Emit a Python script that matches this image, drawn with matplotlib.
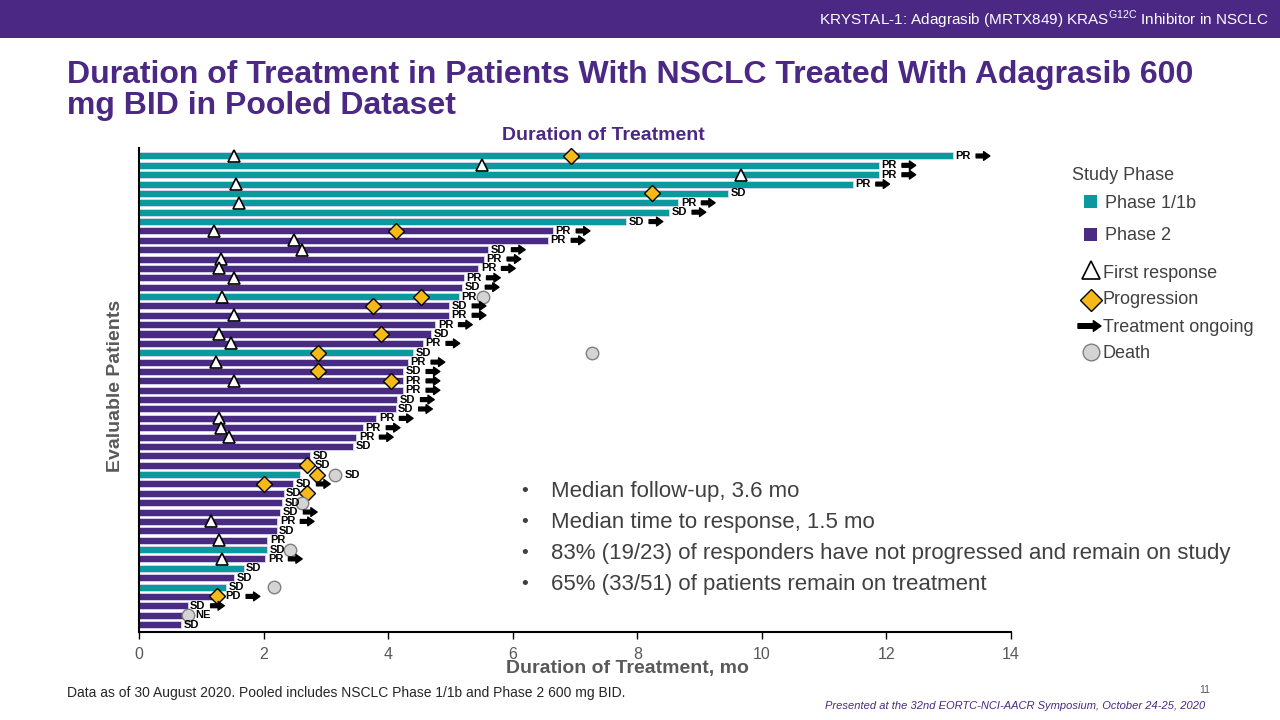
import matplotlib
matplotlib.use('Agg')
import matplotlib.pyplot as plt
from matplotlib.patches import Rectangle

plt.rcParams['font.family'] = ['Liberation Sans', 'DejaVu Sans']
plt.rcParams['mathtext.fontset'] = 'custom'
plt.rcParams['mathtext.rm'] = 'Liberation Sans'

PURPLE = '#4b2884'
TEAL = '#0a9a9e'
BAR_PURPLE = '#4a2b84'
GOLD = '#f6b91a'
GREY = '#595959'
DARK = '#404040'

# duration of treatment per patient (months), top row first
duration = [13.07, 11.88, 11.88, 11.46, 9.46, 8.66, 8.51, 7.82, 6.65, 6.57,
            5.61, 5.54, 5.45, 5.21, 5.19, 5.14, 4.98, 4.98, 4.76, 4.69,
            4.56, 4.40, 4.32, 4.24, 4.24, 4.24, 4.15, 4.12, 3.81, 3.60,
            3.49, 3.44, 2.75, 2.66, 2.59, 2.48, 2.32, 2.30, 2.27, 2.22,
            2.21, 2.06, 2.06, 2.03, 1.68, 1.53, 1.40, 1.20, 0.78, 0.71, 0.68]
best_response = ['PR', 'PR', 'PR', 'PR', 'SD', 'PR', 'SD', 'SD', 'PR', 'PR',
                 'SD', 'PR', 'PR', 'PR', 'SD', 'PR', 'SD', 'PR', 'PR', 'SD',
                 'PR', 'SD', 'PR', 'SD', 'PR', 'PR', 'SD', 'SD', 'PR', 'PR',
                 'PR', 'SD', 'SD', 'SD', 'SD', 'SD', 'SD', 'SD', 'SD', 'PR',
                 'SD', 'PR', 'SD', 'PR', 'SD', 'SD', 'SD', 'PD', 'SD', 'NE', 'SD']
phase1_rows = [1, 2, 3, 4, 5, 6, 7, 8, 16, 22, 35, 43, 45, 47]
ongoing_rows = [1, 2, 3, 4, 6, 7, 8, 9, 10, 11, 12, 13, 14, 15, 17, 18, 19, 21,
                23, 24, 25, 26, 27, 28, 29, 30, 31, 36, 39, 40, 44, 48, 49]

response_rows = [1, 2, 3, 4, 6, 9, 10, 11, 12, 13, 14, 16, 18, 20, 21, 23, 25,
                 29, 30, 31, 40, 42, 44]
response_time = [1.52, 5.51, 9.67, 1.55, 1.61, 1.20, 2.49, 2.62, 1.31, 1.28, 1.52,
                 1.34, 1.53, 1.29, 1.48, 1.23, 1.52, 1.28, 1.32, 1.44, 1.16, 1.29, 1.34]
progression_rows = [1, 5, 9, 16, 17, 20, 22, 24, 25, 34, 35, 36, 37, 48]
progression_time = [6.94, 8.24, 4.12, 4.53, 3.76, 3.89, 2.88, 2.88, 4.05, 2.69,
                    2.85, 2.00, 2.70, 1.26]
death_rows = [16, 22, 35, 38, 43, 47, 50]
death_time = [5.53, 7.27, 3.15, 2.62, 2.43, 2.17, 0.78]

bullets = ['Median follow-up, 3.6 mo',
           'Median time to response, 1.5 mo',
           '83% (19/23) of responders have not progressed and remain on study',
           '65% (33/51) of patients remain on treatment']

ARROW = 'simple,head_length=0.5,head_width=0.7,tail_width=0.3'

fig = plt.figure(figsize=(12.8, 7.2), dpi=100)
ax = fig.add_axes([139 / 1280, 1 - 632 / 720, (1011 - 139) / 1280, (632 - 148) / 720])
ax.patch.set_visible(False)

n = len(duration)
ypos = list(range(n))
colors = [TEAL if (i + 1) in phase1_rows else BAR_PURPLE for i in range(n)]
ax.barh(ypos, duration, height=0.75, color=colors, edgecolor='#ddd6ea',
        linewidth=0.6, zorder=2)

ax.plot(response_time, [r - 1 for r in response_rows], ls='none', marker='^', ms=9,
        mfc='white', mec='black', mew=1.2, zorder=5)
ax.plot(progression_time, [r - 1 for r in progression_rows], ls='none', marker='D',
        ms=8, mfc=GOLD, mec='black', mew=1.0, zorder=5)
ax.plot(death_time, [r - 1 for r in death_rows], ls='none', marker='o', ms=9,
        mfc='#d4d4d4', mec='#7f7f7f', mew=1.0, zorder=5)

# response label and "ongoing" arrow at the end of each bar
events = {}
for rows, times in ((progression_rows, progression_time), (death_rows, death_time)):
    for r, t in zip(rows, times):
        events.setdefault(r, []).append(t)
for i in range(n):
    end = duration[i]
    lx = end + 0.04
    near = [t for t in events.get(i + 1, []) if abs(t - end) < 0.12]
    if near:
        lx = max(near) + 0.13
    if i + 1 == 35:
        lx = max(events[35]) + 0.15
    ax.text(lx, i, best_response[i], fontsize=8, fontweight='bold', color='black',
            va='center', ha='left', zorder=6)
    if (i + 1) in ongoing_rows:
        ax.annotate('', xy=(lx + 0.55, i), xytext=(lx + 0.33, i),
                    arrowprops=dict(arrowstyle=ARROW, color='black', mutation_scale=9,
                                    shrinkA=0, shrinkB=0),
                    zorder=6)

ax.set_xlim(0, 14)
ax.set_ylim(n - 0.2, -0.85)
ax.set_xticks(range(0, 15, 2))
ax.set_yticks([])
ax.tick_params(axis='x', length=5, width=1, colors='black', labelcolor=GREY,
               labelsize=11.5, pad=6)
for s in ('top', 'right'):
    ax.spines[s].set_visible(False)
ax.spines['left'].set_linewidth(1.5)
ax.spines['bottom'].set_linewidth(1.5)

# slide decoration in pixel coordinates
ov = fig.add_axes([0, 0, 1, 1], zorder=-1)
ov.set_xlim(0, 1280)
ov.set_ylim(720, 0)
ov.axis('off')
ov.add_patch(Rectangle((0, 0), 1280, 38, color=PURPLE, lw=0))
ov.text(1268, 20, r'KRYSTAL-1: Adagrasib (MRTX849) KRAS$^{\mathrm{G12C}}$ Inhibitor in NSCLC',
        color='white', fontsize=11, ha='right', va='center')
ov.text(67, 83, 'Duration of Treatment in Patients With NSCLC Treated With Adagrasib 600',
        color=PURPLE, fontsize=23, fontweight='bold', ha='left', va='baseline')
ov.text(67, 114, 'mg BID in Pooled Dataset',
        color=PURPLE, fontsize=23, fontweight='bold', ha='left', va='baseline')
ov.text(603, 136, 'Duration of Treatment', color=PURPLE, fontsize=14,
        fontweight='bold', ha='center', va='center')
ov.text(627, 669, 'Duration of Treatment, mo', color=GREY, fontsize=14,
        fontweight='bold', ha='center', va='center')
ov.text(115, 386, 'Evaluable Patients', color=GREY, fontsize=14, fontweight='bold',
        rotation=90, ha='center', va='center')

# legend
ov.text(1072, 175, 'Study Phase', color=DARK, fontsize=13, ha='left', va='center')
ov.add_patch(Rectangle((1084, 195), 13, 13, color=TEAL, lw=0))
ov.text(1105, 203, 'Phase 1/1b', color=DARK, fontsize=13, ha='left', va='center')
ov.add_patch(Rectangle((1084, 228), 13, 13, color=BAR_PURPLE, lw=0))
ov.text(1105, 235, 'Phase 2', color=DARK, fontsize=13, ha='left', va='center')
ov.plot([1091], [270], marker='^', ms=13, mfc='white', mec='black', mew=1.2)
ov.text(1103, 273, 'First response', color=DARK, fontsize=13, ha='left', va='center')
ov.plot([1091], [300], marker='D', ms=11, mfc=GOLD, mec='black', mew=1.0)
ov.text(1103, 300, 'Progression', color=DARK, fontsize=13, ha='left', va='center')
ov.annotate('', xy=(1101, 326), xytext=(1078, 326),
            arrowprops=dict(arrowstyle=ARROW, color='black', mutation_scale=11,
                            shrinkA=0, shrinkB=0))
ov.text(1103, 327, 'Treatment ongoing', color=DARK, fontsize=13, ha='left', va='center')
ov.plot([1091], [352], marker='o', ms=12, mfc='#d4d4d4', mec='#7f7f7f', mew=1.0)
ov.text(1103, 353, 'Death', color=DARK, fontsize=13, ha='left', va='center')

for k, b in enumerate(bullets):
    y = 492 + k * 30.7
    ov.text(525, y, '\u2022', color=DARK, fontsize=14, ha='center', va='center')
    ov.text(551, y, b, color=DARK, fontsize=16, ha='left', va='center')

ov.text(67, 693, 'Data as of 30 August 2020. Pooled includes NSCLC Phase 1/1b and Phase 2 600 mg BID.',
        color='#262626', fontsize=10, ha='left', va='center')
ov.text(1210, 690, '11', color=GREY, fontsize=7.5, ha='right', va='center')
ov.text(1205, 706, 'Presented at the 32nd EORTC-NCI-AACR Symposium, October 24-25, 2020',
        color=PURPLE, fontsize=8, style='italic', ha='right', va='center')

fig.savefig('out.png', dpi=100)
